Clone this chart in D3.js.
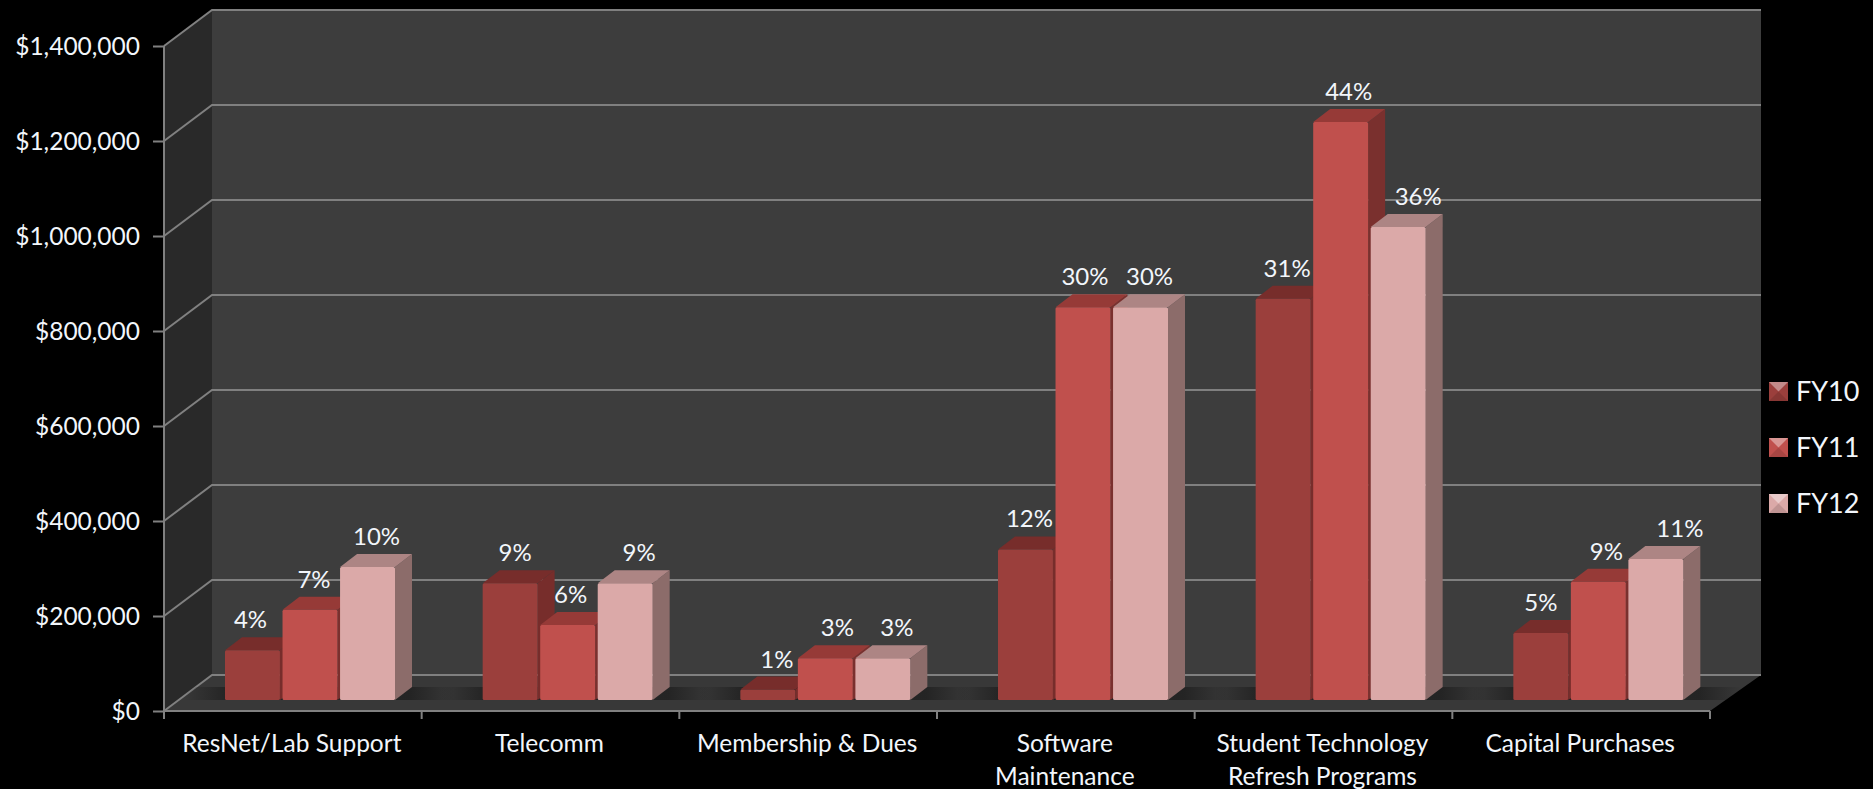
<!DOCTYPE html>
<html><head><meta charset="utf-8">
<style>html,body{margin:0;padding:0;background:#000;overflow:hidden}text{font-family:Lato,"Open Sans",sans-serif}</style>
<script src="https://cdnjs.cloudflare.com/ajax/libs/d3/7.8.5/d3.min.js"></script>
</head><body><script>
const categories = [["ResNet/Lab Support"],["Telecomm"],["Membership & Dues"],["Software","Maintenance"],["Student Technology","Refresh Programs"],["Capital Purchases"]];
const seriesNames = ["FY10","FY11","FY12"];
const fy10 = [105000,246000,22000,317000,845000,141000];
const fy11 = [190000,158000,88000,827000,1217000,249000];
const fy12 = [280000,246000,88000,827000,996000,297000];
const pct10 = ["4%","9%","1%","12%","31%","5%"];
const pct11 = ["7%","6%","3%","30%","44%","9%"];
const pct12 = ["10%","9%","3%","30%","36%","11%"];
const tickValues = [0,200000,400000,600000,800000,1000000,1200000,1400000];

const W=1873,H=789;
const svg=d3.select("body").append("svg").attr("width",W).attr("height",H).style("display","block");
const defs=svg.append("defs");
const sg=defs.append("linearGradient").attr("id","floorShade");
[[0,0],[.16,.55],[.84,.55],[1,0]].forEach(([o,a])=>sg.append("stop").attr("offset",o).attr("stop-color","#141414").attr("stop-opacity",a));

const x0=164,xEnd=1710,depthX=48,depthY=36,axisBottom=711,axisTop=46;
const x=d3.scaleBand().domain(d3.range(categories.length)).range([x0,xEnd]);
const y=d3.scaleLinear().domain([0,1400000]).range([axisBottom,axisTop]);
const bx=d3.scaleBand().domain(d3.range(3)).range([61,231]).paddingInner(.045).paddingOuter(0);
const gridColor="#808080", textColor="#f2f6fb";
const wallRight=1761;

// walls
svg.append("path").attr("fill","#3d3d3d").attr("d",`M${x0+depthX},${axisTop-depthY}H${wallRight}V${axisBottom-depthY}H${x0+depthX}Z`);
svg.append("path").attr("fill","#292929").attr("d",`M${x0},${axisTop}L${x0+depthX},${axisTop-depthY}V${axisBottom-depthY}L${x0},${axisBottom}Z`);
const floorD=`M${x0},${axisBottom}L${x0+depthX},${axisBottom-depthY}H${wallRight}L${xEnd},${axisBottom}Z`;
svg.append("path").attr("fill","#383838").attr("d",floorD);
defs.append("clipPath").attr("id","floorClip").append("path").attr("d",floorD);

// gridlines
tickValues.forEach(v=>{
  const p=y(v);
  svg.append("path").attr("fill","none").attr("stroke",gridColor).attr("stroke-width",2)
    .attr("d",`M${x0},${p}L${x0+depthX},${p-depthY}H${wallRight}`);
});

// axes
const yAxis=d3.axisLeft(y).tickValues(tickValues).tickFormat(d=>"$"+d3.format(",")(d)).tickSize(11).tickPadding(13);
const ya=svg.append("g").attr("transform",`translate(${x0},0)`).call(yAxis);
ya.select(".domain").remove();
ya.append("line").attr("y1",axisTop).attr("y2",axisBottom).attr("stroke",gridColor).attr("stroke-width",2);
ya.selectAll(".tick line").attr("stroke",gridColor).attr("stroke-width",2);
ya.selectAll(".tick text").attr("fill",textColor).attr("font-family",null).attr("y",1).style("font-size","24.5px");

svg.append("line").attr("x1",x0).attr("x2",xEnd).attr("y1",axisBottom).attr("y2",axisBottom).attr("stroke",gridColor).attr("stroke-width",2);
const edges=d3.range(categories.length+1).map(i=>x0+i*x.step());
svg.selectAll(".xt").data(edges).join("line").attr("x1",d=>d).attr("x2",d=>d).attr("y1",axisBottom).attr("y2",axisBottom+8).attr("stroke",gridColor).attr("stroke-width",2);

// floor shadows + bars
const series=[
 {v:fy10,p:pct10,front:"#9b3f3c",top:"#772d2b",side:"#772d2b",ldx:4,nudge:[-6,1,5,0,0,-4]},
 {v:fy11,p:pct11,front:"#c0504d",top:"#963a37",side:"#7a302e",ldx:8,nudge:[-4,-5,4,-6,0,0]},
 {v:fy12,p:pct12,front:"#dba9a8",top:"#ad8584",side:"#8c6c6a",ldx:14,nudge:[-5,0,0,-5,6,10]}
];
const base=700,dx=17,dy=13;
const shadows=svg.append("g").attr("clip-path","url(#floorClip)");
categories.forEach((c,i)=>{
  shadows.append("rect").attr("x",x(i)+20).attr("y",base-dy).attr("width",270).attr("height",dy).attr("fill","url(#floorShade)");
});
const barH=v=>y(0)-y(v);
series.forEach((s,si)=>{
  const g=svg.append("g");
  s.v.forEach((v,i)=>{
    const l=x(i)+bx(si),w=bx.bandwidth(),t=base-barH(v);
    g.append("path").attr("fill",s.side).attr("d",`M${l+w},${t}l${dx},${-dy}V${base-dy}L${l+w},${base}Z`);
    g.append("path").attr("fill",s.top).attr("d",`M${l},${t}l${dx},${-dy}h${w}l${-dx},${dy}Z`);
    g.append("rect").attr("x",l).attr("y",t).attr("width",w).attr("height",barH(v)).attr("fill",s.front).attr("rx",1.5);
  });
});
series.forEach((s,si)=>{
  s.v.forEach((v,i)=>{
    svg.append("text").attr("x",x(i)+bx(si)+bx.bandwidth()/2+s.ldx+s.nudge[i]).attr("y",base-barH(v)-22)
      .attr("text-anchor","middle").attr("fill",textColor).style("font-size","24px").text(s.p[i]);
  });
});

// category labels
categories.forEach((c,i)=>{
  c.forEach((t,k)=>{
    svg.append("text").attr("x",x(i)+x.bandwidth()/2-1).attr("y",752+k*32.5).attr("text-anchor","middle")
      .attr("fill",textColor).style("font-size","24.5px").text(t);
  });
});

// legend
const lgY=d3.scalePoint().domain(seriesNames).range([401,513]);
seriesNames.forEach((n,i)=>{
  const yy=lgY(n),s=series[i],lx=1769,ly=yy-19,sz=19;
  svg.append("rect").attr("x",lx).attr("y",ly).attr("width",sz).attr("height",sz).attr("fill",s.front);
  svg.append("path").attr("fill","#fff").attr("fill-opacity",.4).attr("d",`M${lx},${ly}h${sz}l${-sz/2},${sz/2}Z`);
  svg.append("path").attr("fill","#000").attr("fill-opacity",.12).attr("d",`M${lx},${ly+sz}h${sz}l${-sz/2},${-sz/2}Z`);
  svg.append("text").attr("x",1796).attr("y",yy).attr("fill",textColor).style("font-size","27px").text(n);
});
</script></body></html>
